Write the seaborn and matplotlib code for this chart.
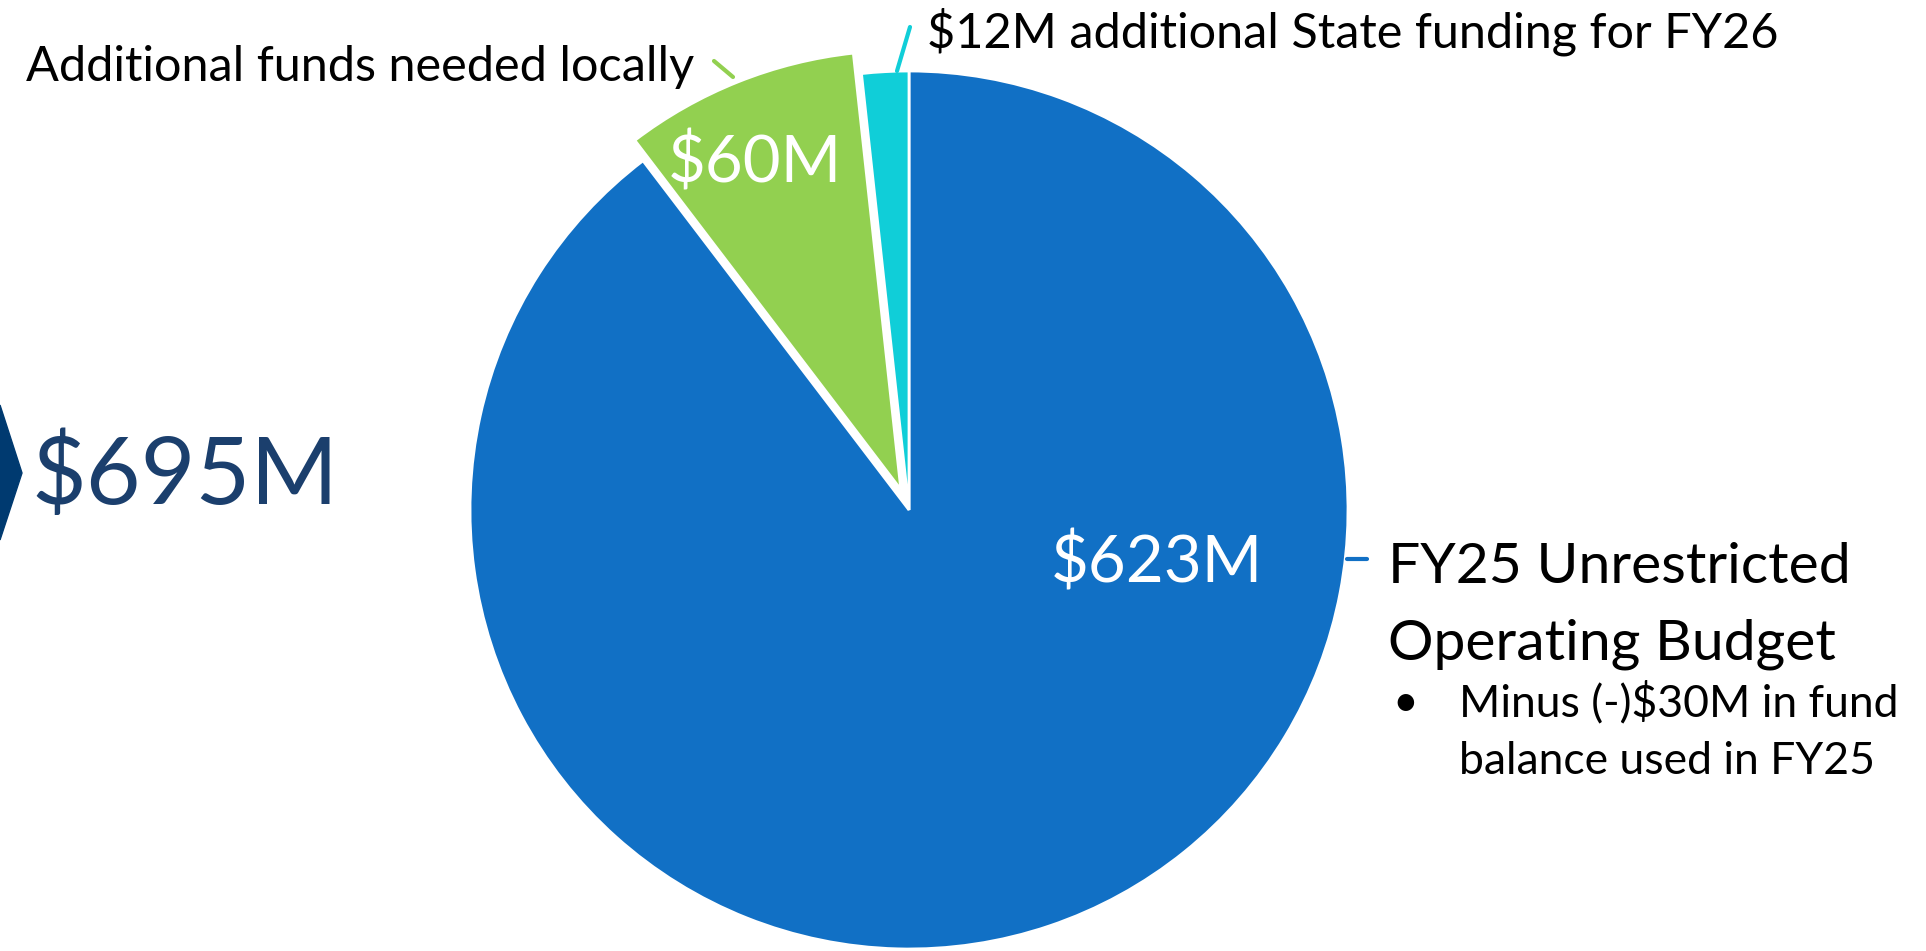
#!/usr/bin/env python3
import numpy as np
import seaborn as sns
import matplotlib.pyplot as plt
from matplotlib.patches import Polygon

# budget pieces (millions of dollars), drawn clockwise from 12 o'clock
parts = ['FY25 Unrestricted', 'Additional funds needed locally',
         '$12M additional State funding for FY26']
part_line2 = 'Operating Budget'
amounts = [623, 60, 12]
amount_text = ['$623M', '$60M', '']
note_lines = ['Minus (-)$30M in fund', 'balance used in FY25']

W, H = 1926, 951
colors = ['#1170C5', '#92D050', '#10CED8']
navy = '#1B3F6D'

sns.set_theme(style='white')
plt.rcParams['font.family'] = ['Lato', 'DejaVu Sans']

fig = plt.figure(figsize=(W / 100, H / 100), dpi=100)
ax = fig.add_axes([0, 0, 1, 1])

cx, cy, r = 909, H - 510, 439
wedges, _ = ax.pie(amounts, colors=colors, startangle=90, counterclock=False,
                   radius=r, center=(cx, cy), explode=[0, 22, 0],
                   wedgeprops=dict(edgecolor='white', linewidth=2))
ax.set_xlim(0, W)
ax.set_ylim(0, H)
ax.set_aspect('equal')
ax.axis('off')

# values inside the slices
ax.text(1157, H - 582, amount_text[0], color='white', fontsize=47, ha='center', va='baseline')
ax.text(755, H - 182, amount_text[1], color='white', fontsize=47, ha='center', va='baseline')

# leader lines + category labels
ax.plot([1347, 1367], [H - 559, H - 559], color=colors[0], lw=3)
ax.plot([714, 733], [H - 61, H - 77], color=colors[1], lw=3)
ax.plot([910, 897], [H - 27, H - 71], color=colors[2], lw=3)

ax.text(1388, H - 583, parts[0], color='black', fontsize=41, ha='left', va='baseline')
ax.text(1388, H - 659, part_line2, color='black', fontsize=41, ha='left', va='baseline')
ax.text(694, H - 81, parts[1], color='black', fontsize=35, ha='right', va='baseline')
ax.text(927, H - 48, parts[2], color='black', fontsize=35, ha='left', va='baseline')

ax.text(1392, H - 716, '\u2022', color='black', fontsize=32, ha='left', va='baseline')
ax.text(1459, H - 716, note_lines[0], color='black', fontsize=32, ha='left', va='baseline')
ax.text(1459, H - 774, note_lines[1], color='black', fontsize=32, ha='left', va='baseline')

# total on the left with the arrow tip
ax.add_patch(Polygon([[0, H - 405], [22, H - 473], [0, H - 540]], closed=True,
                     color='#003A70', clip_on=False))
ax.text(31, H - 504, '$' + str(sum(amounts)) + 'M', color=navy, fontsize=68,
        ha='left', va='baseline')

fig.savefig('out.png', dpi=100)
